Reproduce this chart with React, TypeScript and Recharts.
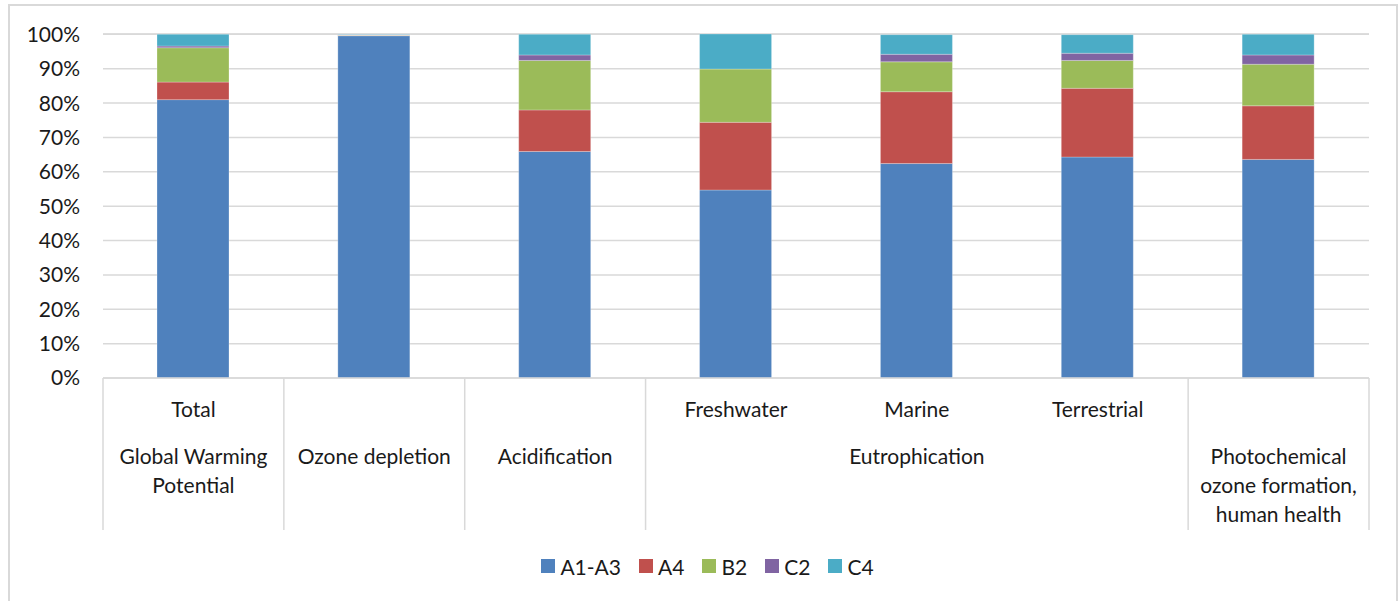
import { BarChart, Bar, XAxis, YAxis, CartesianGrid, Legend } from 'recharts';

// ==========================================
// DATA
// ==========================================

const categoryKeys = ['GWP', 'ODP', 'AP', 'EPfw', 'EPm', 'EPt', 'POCP'];

const subLabels = ['Total', '', '', 'Freshwater', 'Marine', 'Terrestrial', ''];

const groupLabels = [
  ['Global Warming', 'Potential'],
  ['Ozone depletion'],
  ['Acidification'],
  ['Eutrophication'],
  ['Photochemical', 'ozone formation,', 'human health']
];

// how many categories each group covers
const groupSpans = [1, 1, 1, 3, 1];

const a1a3 = [81.0, 99.6, 65.9, 54.7, 62.4, 64.3, 63.6];
const a4 = [5.1, 0.1, 12.1, 19.7, 20.9, 20.0, 15.6];
const b2 = [10.0, 0.1, 14.4, 15.5, 8.7, 8.1, 12.1];
const c2 = [0.5, 0.1, 1.6, 0.0, 2.2, 2.1, 2.7];
const c4 = [3.4, 0.1, 6.0, 10.2, 5.7, 5.4, 6.0];

const yTicks = [0, 10, 20, 30, 40, 50, 60, 70, 80, 90, 100];

const seriesList = [
  { key: 'A1-A3', values: a1a3, color: '#4F81BD' },
  { key: 'A4', values: a4, color: '#C0504D' },
  { key: 'B2', values: b2, color: '#9BBB59' },
  { key: 'C2', values: c2, color: '#8064A2' },
  { key: 'C4', values: c4, color: '#4BACC6' }
];

const chartData = categoryKeys.map((cat, i) => {
  const row: Record<string, any> = { cat };
  seriesList.forEach((s) => {
    row[s.key] = s.values[i];
  });
  return row;
});

// group start index / middle index lookup
const groupStarts: number[] = [];
const groupMiddles: Record<number, number> = {};
{
  let idx = 0;
  groupSpans.forEach((span, g) => {
    groupStarts.push(idx);
    groupMiddles[idx + Math.floor(span / 2)] = g;
    idx += span;
  });
}

const FONT = 'Lato, "Noto Sans", sans-serif';
const FS = 21;
const TEXT = '#1a1a1a';
const LINE = '#d9d9d9';

// ==========================================
// X TICK (two levels)
// ==========================================

function CategoryTick(props: any) {
  const { x, y, payload, index } = props;
  const half = payload?.offset || 90.4;
  const g = groupMiddles[index];
  const lines = g !== undefined ? groupLabels[g] : [];
  const isStart = groupStarts.includes(index);
  const isLast = index === categoryKeys.length - 1;

  return (
    <g>
      {isStart && (
        <line x1={x - half} x2={x - half} y1={y} y2={y + 152} stroke={LINE} strokeWidth={1.5} />
      )}
      {isLast && (
        <line x1={x + half} x2={x + half} y1={y} y2={y + 152} stroke={LINE} strokeWidth={1.5} />
      )}
      {subLabels[index] && (
        <text x={x} y={y + 39} textAnchor="middle" fontSize={FS} fill={TEXT} fontFamily={FONT}>
          {subLabels[index]}
        </text>
      )}
      {lines.map((l, k) => (
        <text
          key={k}
          x={x}
          y={y + 86 + k * 29}
          textAnchor="middle"
          fontSize={FS}
          fill={TEXT}
          fontFamily={FONT}
        >
          {l}
        </text>
      ))}
    </g>
  );
}

// ==========================================
// LEGEND
// ==========================================

function LegendContent() {
  return (
    <div
      style={{
        display: 'flex',
        justifyContent: 'center',
        alignItems: 'center',
        height: 24,
        paddingLeft: 46,
        fontFamily: FONT,
        fontSize: FS,
        color: TEXT
      }}
    >
      {seriesList.map((s, i) => (
        <div
          key={s.key}
          style={{
            display: 'flex',
            alignItems: 'center',
            marginRight: i === seriesList.length - 1 ? 0 : 18
          }}
        >
          <div style={{ width: 14, height: 14, background: s.color, marginRight: 5 }} />
          <span>{s.key}</span>
        </div>
      ))}
    </div>
  );
}

// ==========================================
// CHART
// ==========================================

export default function App() {
  return (
    <div style={{ position: 'absolute', left: 0, top: 0, width: 1399, height: 601, overflow: 'hidden', background: '#fff' }}>
      <div
        style={{
          position: 'absolute',
          left: 8,
          top: 4,
          width: 1386,
          height: 640,
          border: `2px solid ${LINE}`
        }}
      />
      <div style={{ position: 'absolute', left: 0, top: 0 }}>
        <BarChart
          width={1399}
          height={601}
          data={chartData}
          margin={{ top: 34, right: 30, left: 0, bottom: 23 }}
          barSize={72}
        >
          <CartesianGrid vertical={false} stroke={LINE} strokeWidth={1.5} />
          <XAxis
            dataKey="cat"
            height={176}
            interval={0}
            tickLine={false}
            tickSize={0}
            tickMargin={0}
            stroke={LINE}
            strokeWidth={1.5}
            tick={<CategoryTick />}
          />
          <YAxis
            width={103}
            domain={[0, 100]}
            ticks={yTicks}
            tickFormatter={(v: number) => `${v}%`}
            axisLine={false}
            tickLine={false}
            tickMargin={17}
            tick={{ fill: TEXT, fontSize: FS, fontFamily: FONT }}
            interval={0}
          />
          <Legend verticalAlign="bottom" content={<LegendContent />} />
          {seriesList.map((s) => (
            <Bar
              key={s.key}
              dataKey={s.key}
              stackId="a"
              fill={s.color}
              stroke="#ffffff"
              strokeOpacity={0.35}
              strokeWidth={0.75}
              isAnimationActive={false}
            />
          ))}
        </BarChart>
      </div>
    </div>
  );
}
